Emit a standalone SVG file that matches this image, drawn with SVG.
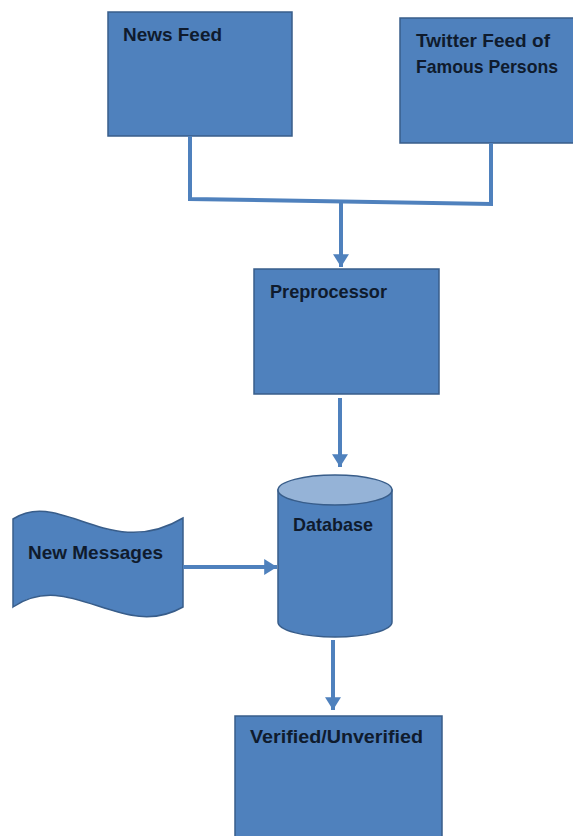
<svg xmlns="http://www.w3.org/2000/svg" width="573" height="836" viewBox="0 0 573 836">
<style>
.box{fill:#4F81BD;stroke:#385D8A;stroke-width:1.5}
.lbl{font-family:"Liberation Sans",Arial,sans-serif;font-weight:bold;font-size:19px;fill:#0F1B2D}
.con{fill:none;stroke:#4F81BD;stroke-width:4}
</style>
<defs>
<marker id="ah" markerWidth="4" markerHeight="4" refX="3.2" refY="2" orient="auto" markerUnits="strokeWidth">
<path d="M0,0 L3.2,2 L0,4 Z" fill="#4F81BD"/>
</marker>
</defs>
<rect width="573" height="836" fill="#ffffff"/>
<g id="news-feed">
<rect class="box" x="108" y="12" width="184" height="124"/>
<text class="lbl" x="123" y="41" textLength="99" lengthAdjust="spacingAndGlyphs">News Feed</text>
</g>
<g id="twitter-feed">
<rect class="box" x="400" y="18" width="180" height="125"/>
<text class="lbl" x="416" y="47" textLength="134" lengthAdjust="spacingAndGlyphs">Twitter Feed of</text>
<text class="lbl" x="416" y="73" textLength="142" lengthAdjust="spacingAndGlyphs">Famous Persons</text>
</g>
<g id="preprocessor">
<rect class="box" x="254" y="269" width="185" height="125"/>
<text class="lbl" x="270" y="298" textLength="117" lengthAdjust="spacingAndGlyphs">Preprocessor</text>
</g>
<g id="database">
<path class="box" d="M278,490 L278,622 A57,15 0 0 0 392,622 L392,490 Z"/>
<ellipse cx="335" cy="490" rx="57" ry="15" fill="#95B3D7" stroke="#385D8A" stroke-width="1.5"/>
<text class="lbl" x="293" y="531" textLength="80" lengthAdjust="spacingAndGlyphs">Database</text>
</g>
<g id="new-messages">
<path class="box" d="M13,519 C60,488 110,562 183,518 L183,607 C122,642 70,568 13,607 Z"/>
<text class="lbl" x="28" y="559" textLength="135" lengthAdjust="spacingAndGlyphs">New Messages</text>
</g>
<g id="verified">
<rect class="box" x="235" y="716" width="207" height="130"/>
<text class="lbl" x="250" y="743" textLength="173" lengthAdjust="spacingAndGlyphs">Verified/Unverified</text>
</g>
<g id="connectors">
<polyline class="con" points="190,136 190,199 491,204 491,143"/>
<line class="con" x1="341" y1="201" x2="341" y2="267" marker-end="url(#ah)"/>
<line class="con" x1="340" y1="398" x2="340" y2="467" marker-end="url(#ah)"/>
<line class="con" x1="183" y1="567" x2="277" y2="567" marker-end="url(#ah)"/>
<line class="con" x1="333" y1="640" x2="333" y2="710" marker-end="url(#ah)"/>
</g>
</svg>
